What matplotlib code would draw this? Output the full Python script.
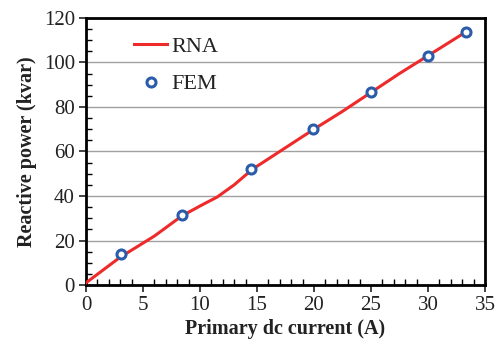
import matplotlib
matplotlib.use("Agg")
import matplotlib.pyplot as plt
from matplotlib.ticker import MultipleLocator

plt.rcParams['font.family'] = ['Liberation Serif', 'DejaVu Serif']

# RNA curve
rna_x = [0, 3, 6, 8.4, 10, 11.5, 13, 14.6, 17, 20, 22.5, 25, 27.5, 30, 33.3]
rna_y = [1, 12.5, 22, 31, 35.5, 39.5, 45, 52, 60, 70, 78, 86.5, 95, 103, 113.6]

# FEM points
fem_x = [3.1, 8.4, 14.5, 19.9, 25.0, 30.0, 33.3]
fem_y = [13.9, 31.3, 52, 70, 86.6, 102.9, 113.6]

fig = plt.figure(figsize=(5, 3.43), dpi=100)
ax = fig.add_axes([0.172, 0.169, 0.798, 0.779])

ax.grid(axis='y', color='#a0a0a0', lw=1)
ax.set_axisbelow(True)
ax.plot(rna_x, rna_y, color='#ee2a2a', lw=2.2, label='RNA', zorder=3)
ax.plot(fem_x, fem_y, 'o', ms=6.5, mfc='white', mec='#2a5caa', mew=2.2,
        ls='none', label='FEM', zorder=4)

ax.set_xlim(0, 35)
ax.set_ylim(0, 120)
ax.xaxis.set_major_locator(MultipleLocator(5))
ax.xaxis.set_minor_locator(MultipleLocator(1))
ax.yaxis.set_major_locator(MultipleLocator(20))
ax.yaxis.set_minor_locator(MultipleLocator(5))
ax.tick_params(which='major', direction='out', length=5, width=1.2, labelsize=15,
               colors='#222222', pad=3)
ax.tick_params(which='minor', direction='in', length=4, width=1)

for s in ax.spines.values():
    s.set_linewidth(2)

ax.set_xlabel('Primary dc current (A)', fontsize=14.5, fontweight='bold', labelpad=3,
              color='#222222')
ax.set_ylabel('Reactive power (kvar)', fontsize=14.5, fontweight='bold', labelpad=5,
              color='#222222')

ax.legend(loc='upper left', bbox_to_anchor=(0.07, 1.005), frameon=False, fontsize=16,
          handlelength=1.5, handletextpad=0.2, labelspacing=0.75, labelcolor='#222222')

fig.savefig('out.png', dpi=100)
